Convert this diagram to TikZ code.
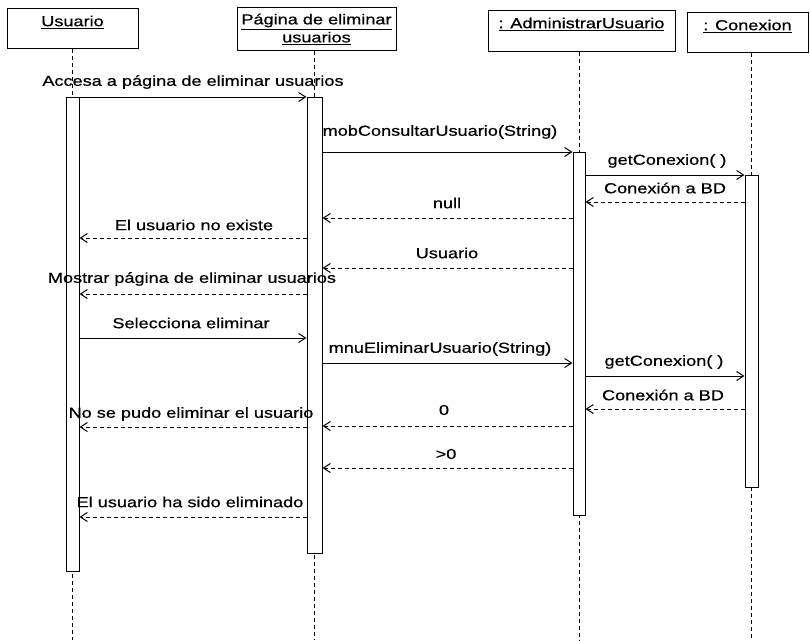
\documentclass[tikz,border=0pt]{standalone}
\usepackage{fontspec}
\setmainfont{Liberation Sans}[FakeStretch=1.25,FakeBold=0.6]
\usetikzlibrary{arrows.meta}
\begin{document}
\begin{tikzpicture}[x=1pt,y=-1pt,
  hbox/.style={draw, line width=1pt, inner sep=0pt, fill=white},
  life/.style={line width=1pt, dash pattern=on 4pt off 3pt},
  act/.style={draw, fill=white, line width=1pt, inner sep=0pt, anchor=north},
  call/.style={line width=1pt, -{Straight Barb[length=7pt,width=9pt]}},
  ret/.style={call, dash pattern=on 4pt off 3pt},
  lbl/.style={font=\fontsize{14.5}{18}\selectfont, inner sep=0pt},
  htxt/.style={lbl, anchor=north, align=center}]
\useasboundingbox (0,0) rectangle (810,640);
% header boxes
\node[hbox, minimum width=131pt, minimum height=40pt] (h1) at (72.5,28) {};
\node[hbox, minimum width=159pt, minimum height=43pt] (h2) at (316.5,28.5) {};
\node[hbox, minimum width=187pt, minimum height=41pt] (h3) at (581.5,30.5) {};
\node[hbox, minimum width=121pt, minimum height=40pt] (h4) at (747.5,32) {};
\node[htxt] (h1t) at ([yshift=-8pt]h1.north) {\underline{Usuario}};
\node[htxt] (h2t) at ([yshift=-7pt]h2.north) {\underline{Página de eliminar}\\\underline{usuarios}};
\node[htxt] (h3t) at ([yshift=-8pt]h3.north) {\underline{: AdministrarUsuario}};
\node[htxt] (h4t) at ([yshift=-8pt]h4.north) {\underline{: Conexion}};
% lifeline ends
\coordinate (e1) at (72.5,640);
\coordinate (e2) at (314.5,640);
\coordinate (e3) at (579,640);
\coordinate (e4) at (751.5,640);
\draw[life] (h1.south -| e1) -- (e1);
\draw[life] (h2.south -| e2) -- (e2);
\draw[life] (h3.south -| e3) -- (e3);
\draw[life] (h4.south -| e4) -- (e4);
% activations
\node[act, minimum width=13pt, minimum height=474pt] (a1) at (72.5,97) {};
\node[act, minimum width=15pt, minimum height=456pt] (a2) at (314.5,97) {};
\node[act, minimum width=12pt, minimum height=363pt] (a3) at (579,152) {};
\node[act, minimum width=13pt, minimum height=312pt] (a4) at (751.5,175) {};
% messages
\draw[call] (a1.east |- 0,97) -- (a2.west |- 0,97);
\node[lbl] (t1) at (193,82) {Accesa a página de eliminar usuarios};
\draw[call] (a2.east |- 0,152) -- (a3.west |- 0,152);
\node[lbl] (t2) at (440,132) {mobConsultarUsuario(String)};
\draw[call] (a3.east |- 0,175) -- (a4.west |- 0,175);
\node[lbl] (t3) at (667,161) {getConexion( )};
\draw[ret] (a4.west |- 0,202) -- (a3.east |- 0,202);
\node[lbl] (t4) at (665,188) {Conexión a BD};
\draw[ret] (a3.west |- 0,218) -- (a2.east |- 0,218);
\node[lbl] (t5) at (447,203) {null};
\draw[ret] (a2.west |- 0,238) -- (a1.east |- 0,238);
\node[lbl] (t6) at (194,225) {El usuario no existe};
\draw[ret] (a3.west |- 0,268) -- (a2.east |- 0,268);
\node[lbl] (t7) at (447,253) {Usuario};
\draw[ret] (a2.west |- 0,294) -- (a1.east |- 0,294);
\node[lbl] (t8) at (192,279) {Mostrar página de eliminar usuarios};
\draw[call] (a1.east |- 0,338) -- (a2.west |- 0,338);
\node[lbl] (t9) at (191,323) {Selecciona eliminar};
\draw[call] (a2.east |- 0,363) -- (a3.west |- 0,363);
\node[lbl] (t10) at (440,349) {mnuEliminarUsuario(String)};
\draw[call] (a3.east |- 0,376) -- (a4.west |- 0,376);
\node[lbl] (t11) at (664,362) {getConexion( )};
\draw[ret] (a4.west |- 0,409) -- (a3.east |- 0,409);
\node[lbl] (t12) at (663,395) {Conexión a BD};
\draw[ret] (a3.west |- 0,426) -- (a2.east |- 0,426);
\node[lbl] (t13) at (444,410) {0};
\draw[ret] (a2.west |- 0,427) -- (a1.east |- 0,427);
\node[lbl] (t14) at (191,414) {No se pudo eliminar el usuario};
\draw[ret] (a3.west |- 0,468) -- (a2.east |- 0,468);
\node[lbl] (t15) at (446,454) {>0};
\draw[ret] (a2.west |- 0,517) -- (a1.east |- 0,517);
\node[lbl] (t16) at (190,502) {El usuario ha sido eliminado};
\end{tikzpicture}
\end{document}
